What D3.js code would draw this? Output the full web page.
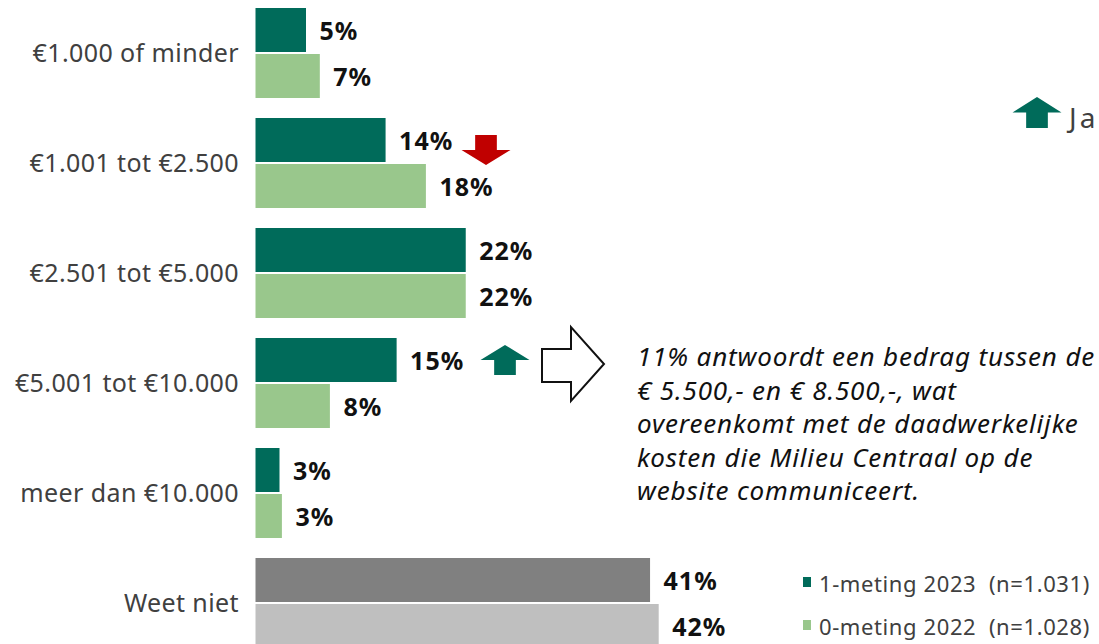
<!DOCTYPE html>
<html><head><meta charset="utf-8">
<script src="https://cdn.jsdelivr.net/npm/d3@7"></script>
<style>html,body{margin:0;padding:0;background:#fff;overflow:hidden}svg{display:block}text{font-family:"Noto Sans",sans-serif}</style>
</head><body><svg id="c" width="1099" height="644"></svg>
<script>
const categories=["€1.000 of minder","€1.001 tot €2.500","€2.501 tot €5.000","€5.001 tot €10.000","meer dan €10.000","Weet niet"];
const series1=[5.26,13.55,21.9,14.7,2.5,41.1];
const series0=[6.7,17.75,21.9,7.75,2.75,42];
const labels1=["5%","14%","22%","15%","3%","41%"];
const labels0=["7%","18%","22%","8%","3%","42%"];
const colors1=["#006B5A","#006B5A","#006B5A","#006B5A","#006B5A","#808080"];
const colors0=["#99C78C","#99C78C","#99C78C","#99C78C","#99C78C","#BFBFBF"];
const noteLines=["11% antwoordt een bedrag tussen de","€ 5.500,- en € 8.500,-, wat","overeenkomt met de daadwerkelijke","kosten die Milieu Centraal op de","website communiceert."];
const legendLabels=["1-meting 2023  (n=1.031)","0-meting 2022  (n=1.028)"];
const legendColors=["#006B5A","#99C78C"];
const svg=d3.select("#c");
const x=d3.scaleLinear().domain([0,50]).range([255.5,735.5]);
const y=d3.scaleBand().domain(categories).range([8,668]);
const sub=d3.scaleBand().domain([0,1]).range([0,90]).paddingInner(0.0435);
const axG=svg.append("g").attr("transform","translate(239,-9)").call(d3.axisLeft(y).tickSize(0).tickPadding(0));
axG.select(".domain").remove();
axG.selectAll("text").attr("font-size",25).attr("fill","#404040").attr("letter-spacing",0.4).style("font-family",'"Noto Sans",sans-serif');
categories.forEach((c,i)=>{
 [[series1,labels1,colors1],[series0,labels0,colors0]].forEach((s,j)=>{
  const yy=y(c)+sub(j);
  svg.append("rect").attr("x",x(0)).attr("y",yy).attr("width",x(s[0][i])-x(0)).attr("height",sub.bandwidth()).attr("fill",s[2][i]);
  svg.append("text").attr("x",x(s[0][i])+13.5).attr("y",yy+sub.bandwidth()/2+1).attr("dy","0.35em")
   .attr("font-size",25).attr("letter-spacing",1).attr("font-weight",700).attr("fill","#111").text(s[1][i]);
 });
});
function upArrow(cx,top,w,h,col){const p=d3.path();const s=w*0.32,m=h*0.5;
 p.moveTo(cx,top);p.lineTo(cx+w/2,top+m);p.lineTo(cx+s/2+3,top+m);p.lineTo(cx+s/2+3,top+h);p.lineTo(cx-s/2-3,top+h);p.lineTo(cx-s/2-3,top+m);p.lineTo(cx-w/2,top+m);p.closePath();
 return svg.append("path").attr("d",p).attr("fill",col);}
upArrow(505,345,49,30,"#006B5A");
upArrow(1037,97,49,31,"#006B5A");
upArrow(486,135,49,30,"#C00000").attr("transform","rotate(180 486 150)");
svg.append("text").attr("x",1069).attr("y",128).attr("font-size",28).attr("letter-spacing",3).attr("fill","#404040").text("Ja");
svg.append("path").attr("d",d3.line()([[542,349],[571,349],[571,327],[604,364],[571,401],[571,382],[542,382]])+"Z").attr("fill","#fff").attr("stroke","#111").attr("stroke-width",2);
noteLines.forEach((t,i)=>svg.append("text").attr("x",637).attr("y",366+i*33.5).attr("font-size",26).attr("letter-spacing",0.85).attr("font-style","italic").attr("fill","#111").text(t));
legendLabels.forEach((t,i)=>{
 svg.append("rect").attr("x",803).attr("y",577+i*43).attr("width",8).attr("height",10).attr("fill",legendColors[i]);
 svg.append("text").attr("x",819).attr("y",592+i*43).attr("font-size",22).attr("letter-spacing",0.6).attr("fill","#404040").style("white-space","pre").text(t);
});
</script></body></html>
